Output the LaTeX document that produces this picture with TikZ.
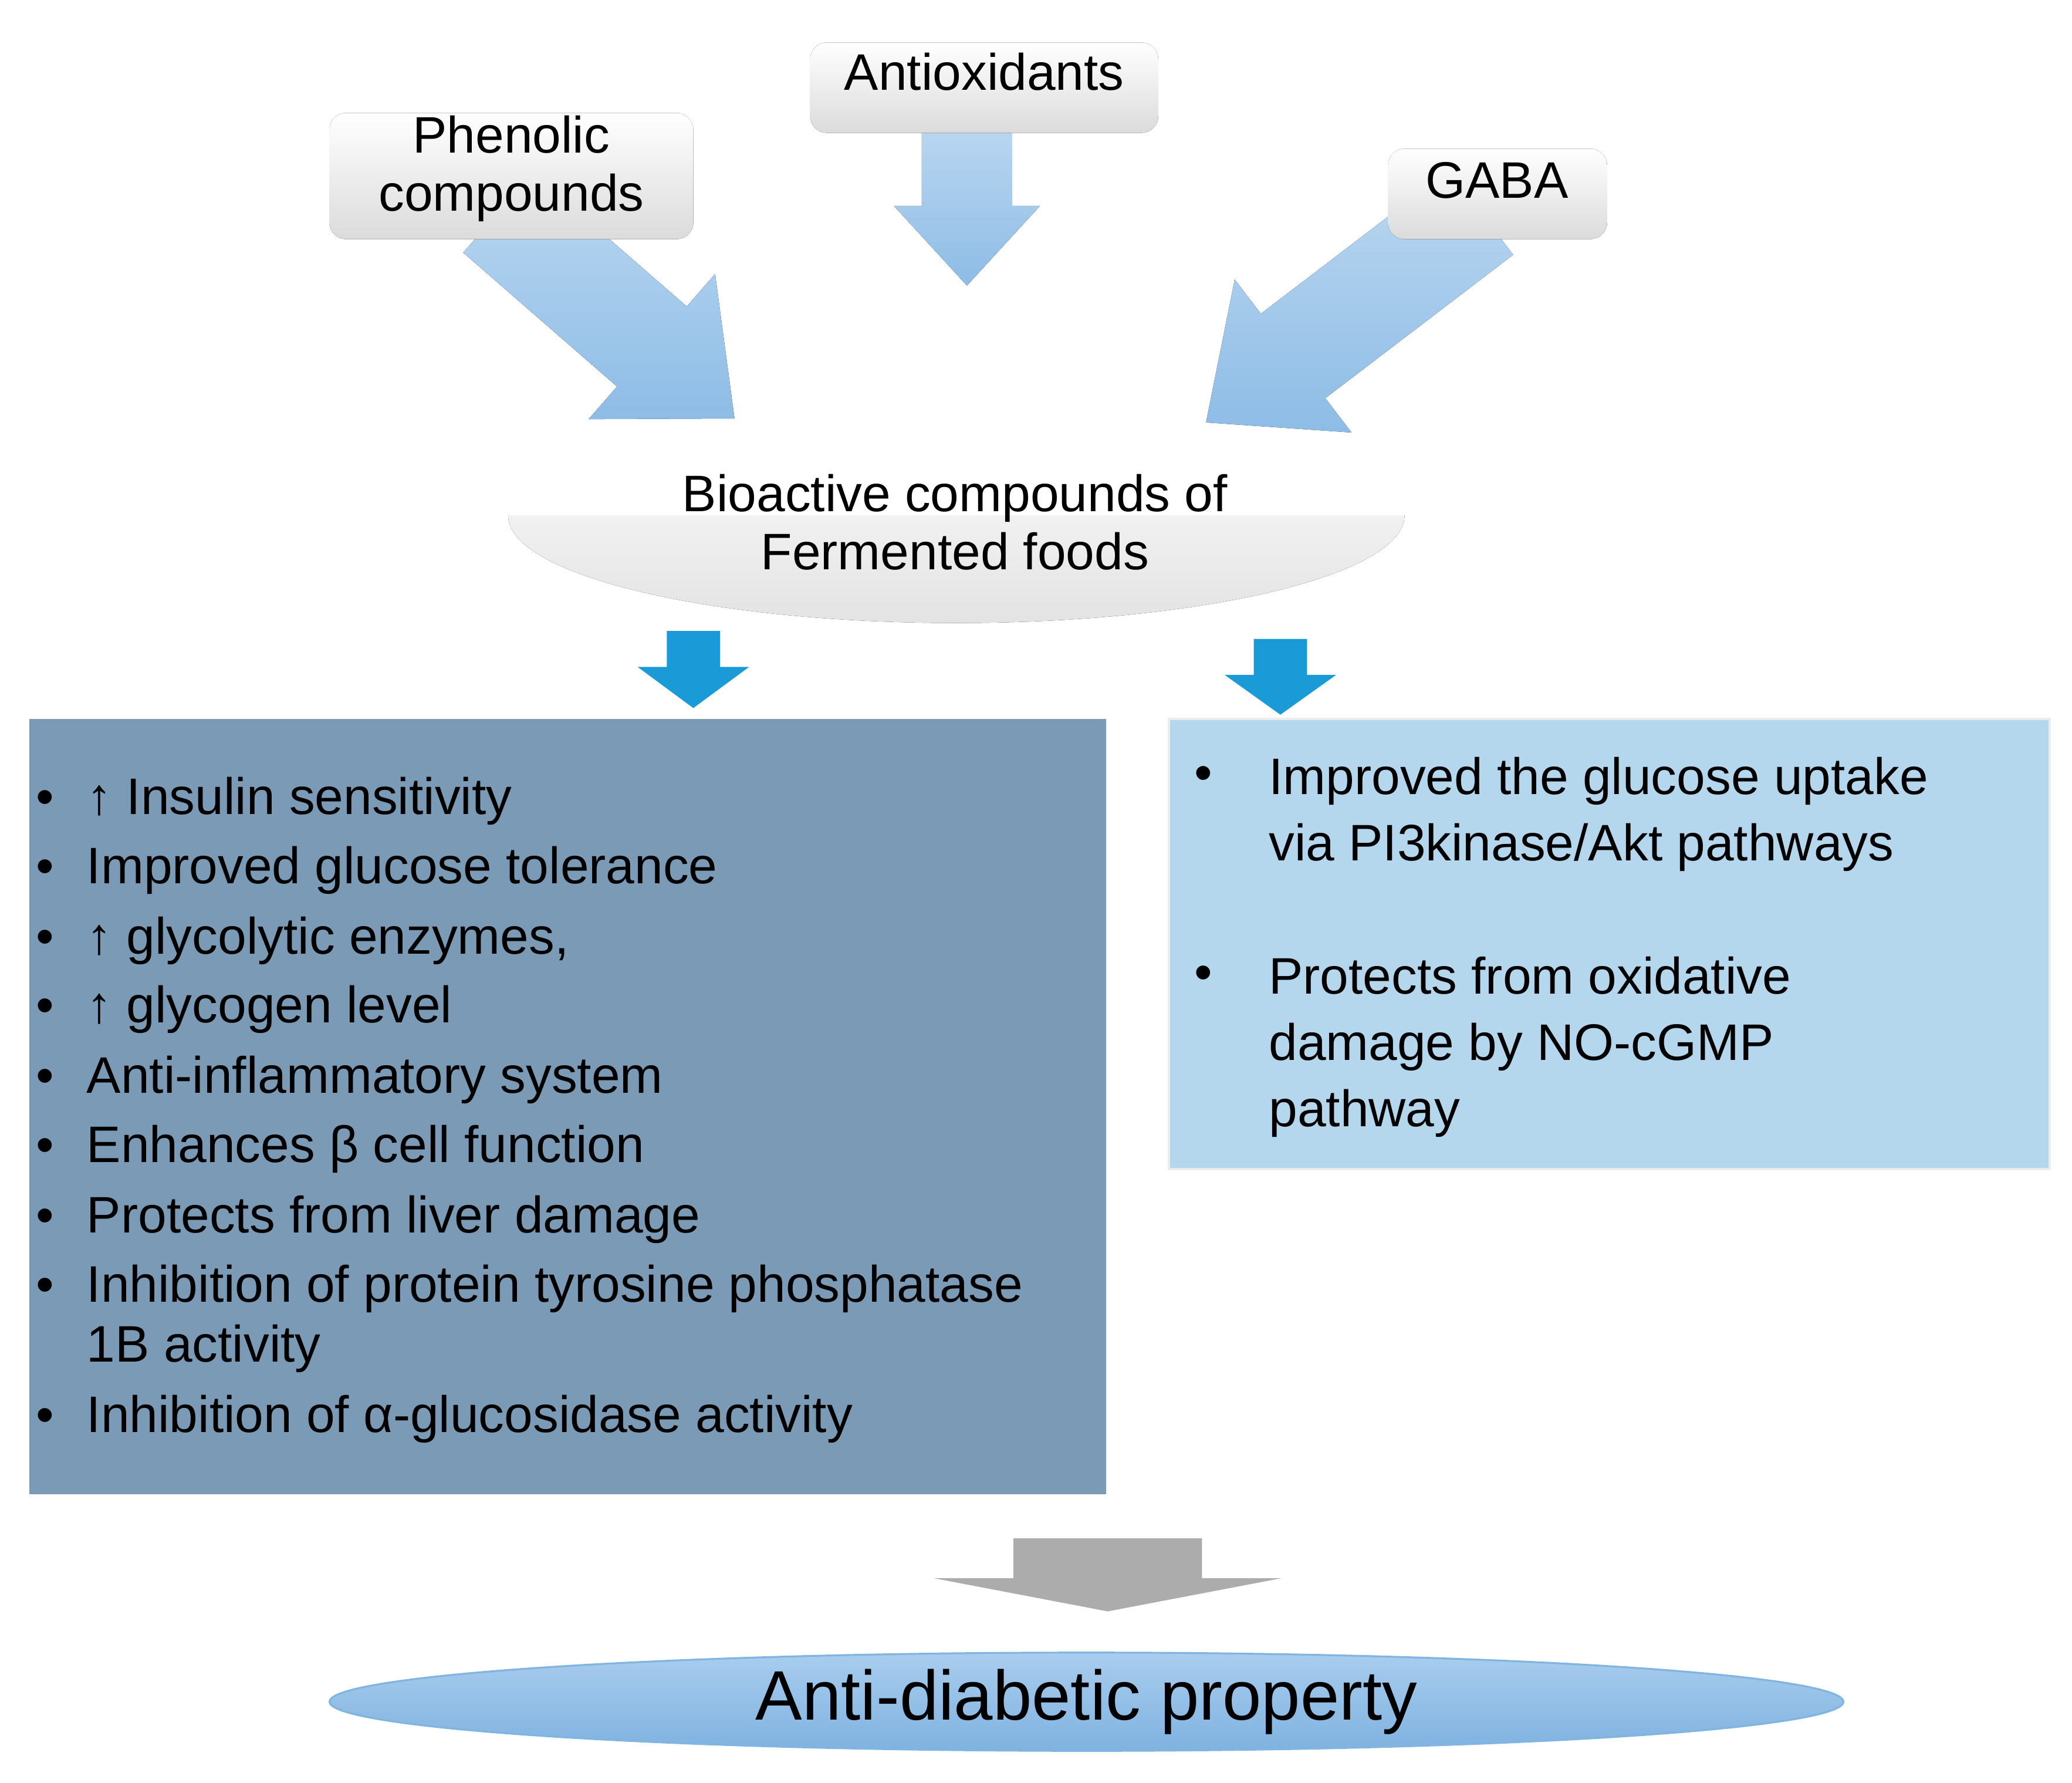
\documentclass[tikz,border=0pt]{standalone}
\usepackage{fontspec}
\setmainfont{Liberation Sans}
\usetikzlibrary{calc}
\definecolor{arrblue}{HTML}{1A9AD6}
\definecolor{leftbox}{HTML}{7B9AB5}
\definecolor{rightbox}{HTML}{B5D7EE}
\definecolor{fatA}{HTML}{BCD8F1}
\definecolor{fatB}{HTML}{8DBCE6}
\definecolor{ellA}{HTML}{A9CDEE}
\definecolor{ellB}{HTML}{7FB2E0}
\definecolor{ellE}{HTML}{7FB5E0}
\begin{document}
\begin{tikzpicture}[x=0.02cm,y=-0.02cm,
  lbl/.style={font=\fontsize{22}{25}\selectfont,align=center,inner sep=0pt},
  lab/.style={rounded corners=0.25cm,top color=white,bottom color=gray!28,draw=none},
  fat/.style={top color=fatA,bottom color=fatB,draw=none},
  item/.style={font=\fontsize{22}{25}\selectfont,anchor=base west,inner sep=0pt},
  blt/.style={font=\fontsize{22}{25}\selectfont,anchor=base west,inner sep=0pt}]
\useasboundingbox (0,0) rectangle (1560,1342);
\newcommand\fatarrow[5]{%
  \coordinate (A) at #1; \coordinate (B) at #2;
  \coordinate (H) at ($(B)!#5!(A)$);
  \fill[fat] ($(A)!#3!90:(B)$) -- ($(H)!#3!-90:(A)$) -- ($(H)!#4!-90:(A)$) -- (B) --
    ($(H)!#4!90:(A)$) -- ($(H)!#3!90:(A)$) -- ($(A)!#3!-90:(B)$) -- cycle;}
% fat arrows
\fatarrow{(728,90)}{(728,215)}{0.68cm}{1.1cm}{1.2cm}
\fatarrow{(375,160)}{(553,315)}{0.8cm}{1.45cm}{1.65cm}
\fatarrow{(1115,160)}{(908,318)}{0.8cm}{1.45cm}{1.65cm}
% label boxes
\fill[lab] (610,32) rectangle (872,100);
\node[lbl] (anti) at (741,54) {Antioxidants};
\fill[lab] (248,85) rectangle (522,180);
\node[lbl] (phen) at (385,127) {Phenolic\\compounds};
\fill[lab] (1045,112) rectangle (1210,180);
\node[lbl] (gaba) at (1127,136) {GABA};
% bioactive
\begin{scope}
\clip (370,388) rectangle (1070,480);
\fill[top color=white,bottom color=gray!22] (720,388) ellipse [x radius=6.75cm,y radius=1.62cm];
\end{scope}
\node[lbl] (bio) at (719,393) {Bioactive compounds of\\Fermented foods};
% blue arrows
\fill[arrblue] (502,475) -- (542,475) -- (542,502) -- (564,502) -- (522,533) -- (480,502) -- (502,502) -- cycle;
\fill[arrblue] (944,481) -- (984,481) -- (984,508) -- (1006,508) -- (964,538) -- (922,508) -- (944,508) -- cycle;
% left box
\fill[leftbox] (22,541) rectangle (833,1125);
\foreach \y/\t [count=\i] in {613/{↑ Insulin sensitivity},665/{Improved glucose tolerance},718/{↑ glycolytic enzymes,},770/{↑ glycogen level},823/{Anti-inflammatory system},875/{Enhances β cell function},928/{Protects from liver damage},980/{Inhibition of protein tyrosine phosphatase},1025/{1B activity},1078/{Inhibition of α-glucosidase activity}}{
  \node[item] (L\i) at (65,\y) {\t};
}
\foreach \y [count=\i] in {613,665,718,770,823,875,928,980,1078}{
  \node[blt] (lb\i) at (27,\y) {•};
}
% right box
\fill[rightbox,draw=gray!15,line width=1pt] (880,541) rectangle (1543,880);
\foreach \y/\t [count=\i] in {598/{Improved the glucose uptake},648/{via PI3kinase/Akt pathways},748/{Protects from oxidative},798/{damage by NO-cGMP},848/{pathway}}{
  \node[item] (R\i) at (955,\y) {\t};
}
\node[blt] (rb1) at (899,595) {•};
\node[blt] (rb2) at (899,745) {•};
% grey arrow
\fill[gray!65] (763,1158) -- (905,1158) -- (905,1188) -- (965,1188) -- (834,1213) -- (703,1188) -- (763,1188) -- cycle;
% final ellipse
\shade[top color=ellA,bottom color=ellB] (818,1281) ellipse [x radius=11.4cm,y radius=0.74cm];
\draw[ellE,line width=0.8pt] (818,1281) ellipse [x radius=11.4cm,y radius=0.74cm];
\node[inner sep=0pt,font=\fontsize{30}{34}\selectfont] (prop) at (818,1281) {Anti-diabetic property};
\end{tikzpicture}
\end{document}
